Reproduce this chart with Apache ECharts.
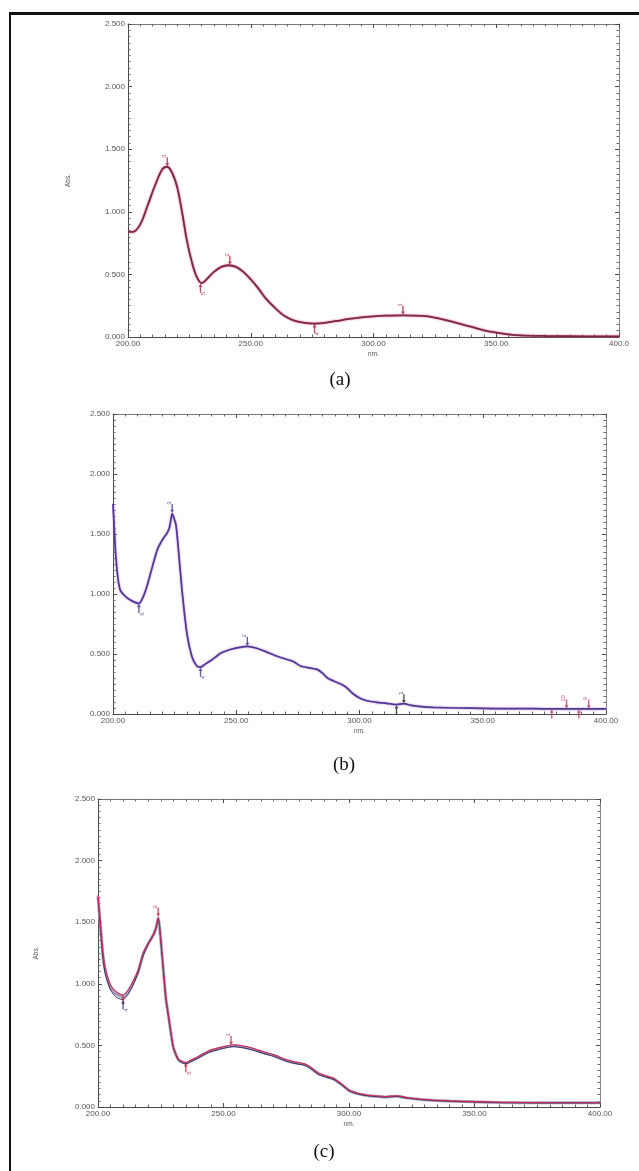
<!DOCTYPE html>
<html><head><meta charset="utf-8">
<script src="https://cdn.jsdelivr.net/npm/echarts@6/dist/echarts.min.js"></script>
<style>html,body{margin:0;padding:0;background:#fff}#c{width:639px;height:1171px}</style>
</head><body><div id="c"></div>
<script>
// ---------- tick labels ----------
const yTickLabels = ['0.000','0.500','1.000','1.500','2.000','2.500'];
const xTickLabelsA = ['200.00','250.00','300.00','350.00','400.0'];
const xTickLabelsBC = ['200.00','250.00','300.00','350.00','400.00'];
const captions = ['(a)','(b)','(c)'];

// ---------- panel (a) ----------
const wlA = [200,202,205,208,211,214,216,218,220,222,224,226,228,230,232,235,238,241,244,247,250,253,256,260,264,268,272,276,280,285,290,295,300,305,312,320,325,330,335,340,345,350,355,360,370,380,390,400];
const absA = [0.84,0.84,0.90,1.05,1.21,1.34,1.36,1.31,1.20,1.00,0.77,0.60,0.48,0.43,0.46,0.52,0.56,0.573,0.56,0.52,0.46,0.39,0.31,0.23,0.165,0.128,0.112,0.107,0.112,0.128,0.144,0.157,0.165,0.170,0.173,0.168,0.155,0.133,0.107,0.080,0.053,0.035,0.021,0.013,0.008,0.006,0.005,0.005];
const markA_wl  = [216, 241.5, 312, 229.5, 276];
const markA_abs = [1.36, 0.573, 0.173, 0.43, 0.107];
const markA_id  = ['3','2','1','5','4'];
const markA_dir = ['down','down','down','up','up'];

// ---------- panel (b) ----------
const wlB = [200,201,202,203,205,207,209,210.5,212,214,216,218,220,222,223,224,225.5,226.5,228,230,232,234,235.5,237,240,244,248,252,254.5,258,262,266,270,273,276,280,283,285,287,290,293,295,297,300,303,307,311,315,318,321,325,330,340,350,360,370,380,390,400];
const absB = [1.75,1.36,1.13,1.03,0.98,0.95,0.93,0.92,0.965,1.08,1.23,1.37,1.45,1.51,1.56,1.67,1.58,1.38,1.03,0.67,0.48,0.40,0.39,0.41,0.45,0.51,0.54,0.558,0.563,0.55,0.52,0.486,0.458,0.44,0.40,0.383,0.37,0.34,0.30,0.27,0.244,0.216,0.175,0.133,0.110,0.097,0.089,0.078,0.086,0.072,0.061,0.055,0.050,0.047,0.044,0.044,0.042,0.042,0.042];
const markB_wl  = [224, 254.5, 318, 384, 393, 210.5, 235.5, 315, 378, 389];
const markB_abs = [1.67, 0.563, 0.086, 0.042, 0.042, 0.92, 0.39, 0.078, 0.042, 0.042];
const markB_id  = ['3','2','1','10','9','6','4','','',''];
const markB_dir = ['down','down','down','down','down','up','up','up','up','up'];
const markB_col = ['#3a2f8a','#3a2f8a','#222222','#c0306a','#c0306a','#3a2f8a','#3a2f8a','#222222','#c0306a','#c0306a'];

// ---------- panel (c) ----------
const wlC = [200,201,202,203,205,207,209,210,212,214,216,218,220,222,223,224,225.5,227,228,230,232,234,235,237,240,244,248,252,254,258,262,266,270,274,278,282,284,286,288,291,294,296,298,300,303,306,310,315,319,323,330,340,350,360,370,380,390,400];
const absC_red  = [1.72,1.48,1.25,1.12,0.99,0.94,0.915,0.91,0.95,1.02,1.11,1.25,1.33,1.40,1.45,1.54,1.25,0.90,0.76,0.49,0.39,0.366,0.36,0.38,0.41,0.455,0.48,0.499,0.505,0.495,0.475,0.448,0.425,0.392,0.368,0.352,0.333,0.303,0.273,0.252,0.232,0.203,0.172,0.138,0.115,0.101,0.091,0.085,0.091,0.077,0.061,0.050,0.044,0.039,0.036,0.035,0.035,0.035];
const absC_navy = [1.70,1.44,1.20,1.07,0.95,0.895,0.875,0.87,0.915,0.99,1.09,1.23,1.32,1.39,1.44,1.53,1.23,0.88,0.74,0.48,0.38,0.355,0.35,0.368,0.398,0.442,0.466,0.485,0.49,0.48,0.46,0.434,0.411,0.378,0.355,0.34,0.321,0.292,0.262,0.242,0.222,0.194,0.163,0.130,0.108,0.095,0.086,0.080,0.086,0.072,0.057,0.046,0.040,0.036,0.033,0.033,0.033,0.033];
const absC_gray = [1.71,1.46,1.23,1.10,0.97,0.92,0.90,0.895,0.935,1.01,1.10,1.24,1.325,1.395,1.445,1.535,1.24,0.89,0.75,0.485,0.385,0.36,0.355,0.374,0.404,0.448,0.473,0.492,0.497,0.487,0.467,0.44,0.418,0.385,0.361,0.346,0.327,0.297,0.268,0.247,0.227,0.198,0.167,0.134,0.111,0.098,0.088,0.082,0.088,0.074,0.059,0.048,0.042,0.037,0.034,0.034,0.034,0.034];
const markC_wl  = [224, 253, 210, 210, 235];
const markC_abs = [1.54, 0.50, 0.91, 0.87, 0.36];
const markC_id  = ['2','1','','4','5'];
const markC_dir = ['down','down','up','up','up'];
const markC_col = ['#c0203a','#c0203a','#c0203a','#2e2f6e','#c0203a'];

// ---------- build ----------
const grids = [
  {left:128, top:24, width:491, height:313},
  {left:113, top:414, width:493, height:300},
  {left:98, top:799, width:502, height:308}
];
const xLabelSets = [xTickLabelsA, xTickLabelsBC, xTickLabelsBC];
const showAbs = [true, false, true];
const AX = '#4a4a4a', LBL = '#555';
const xAxes = [], yAxes = [];
grids.forEach((g, i) => {
  const xl = xLabelSets[i];
  const baseX = {gridIndex:i, type:'value', min:200, max:400, interval:50,
    axisLine:{show:true, onZero:false, lineStyle:{color:AX, width:1}},
    axisTick:{show:true, inside:true, length:4, lineStyle:{color:AX}},
    minorTick:{show:true, splitNumber:10, length:2.5, lineStyle:{color:'#666'}},
    splitLine:{show:false}, minorSplitLine:{show:false}};
  xAxes.push(Object.assign({}, baseX, {position:'bottom',
    axisLabel:{fontSize:8, color:LBL, margin:3, fontFamily:'Liberation Sans',
      formatter: v => xl[Math.round((v-200)/50)]},
    name:'nm.', nameLocation:'middle', nameGap:14,
    nameTextStyle:{fontSize:6.5, color:LBL, fontFamily:'Liberation Sans'}}));
  xAxes.push(Object.assign({}, baseX, {position:'top', axisLabel:{show:false},
    axisLine:{show:true, onZero:false, lineStyle:{color:'#777', width:1}}}));
  const baseY = {gridIndex:i, type:'value', min:0, max:2.5, interval:0.5,
    axisLine:{show:true, onZero:false, lineStyle:{color:AX, width:1}},
    axisTick:{show:true, inside:true, length:4, lineStyle:{color:AX}},
    minorTick:{show:true, splitNumber:10, length:2.5, lineStyle:{color:'#666'}},
    splitLine:{show:false}, minorSplitLine:{show:false}};
  yAxes.push(Object.assign({}, baseY, {position:'left',
    axisLabel:{fontSize:8, color:LBL, margin:3, fontFamily:'Liberation Sans',
      formatter: v => yTickLabels[Math.round(v/0.5)]},
    name: showAbs[i] ? 'Abs.' : '', nameLocation:'middle', nameGap:56, nameRotate:90,
    nameTextStyle:{fontSize:6.5, color:LBL, fontFamily:'Liberation Sans'}}));
  yAxes.push(Object.assign({}, baseY, {position:'right', axisLabel:{show:false},
    axisLine:{show:true, onZero:false, lineStyle:{color:'#888', width:1}}}));
});
yAxes[4].nameGap = 58;

const pairs = (xs, ys) => xs.map((x, k) => [x, ys[k]]);
const ARROW_DOWN = 'path://M-1,0 L1,0 L1,7 L3,7 L0,11 L-3,7 L-1,7 Z';
const ARROW_UP = 'path://M0,0 L3,4 L1,4 L1,11 L-1,11 L-1,4 L-3,4 Z';
function markerSeries(gi, wl, abs, ids, dirs, cols) {
  return {type:'scatter', xAxisIndex:2*gi, yAxisIndex:2*gi, z:5, silent:true,
    data: wl.map((w, k) => {
      const down = dirs[k] === 'down';
      return {value:[w, abs[k]], symbol: down ? ARROW_DOWN : ARROW_UP,
        symbolSize:[4, 9], symbolOffset:[0, down ? -5 : 5],
        itemStyle:{color: cols[k]},
        label:{show: ids[k] !== '', formatter: ids[k], position: down ? 'top' : 'bottom',
          distance:1, rotate:90, fontSize:6, color: cols[k], fontFamily:'Liberation Sans'}};
    })};
}

const series = [
  {type:'line', xAxisIndex:0, yAxisIndex:0, data:pairs(wlA, absA), showSymbol:false, smooth:0.35, silent:true,
    lineStyle:{color:'#7a2a44', width:1.8, shadowColor:'#e0507a', shadowBlur:2}},
  markerSeries(0, markA_wl, markA_abs, markA_id, markA_dir, markA_wl.map(() => '#a81e40')),
  {type:'line', xAxisIndex:2, yAxisIndex:2, data:pairs(wlB, absB), showSymbol:false, smooth:0.2, silent:true,
    lineStyle:{color:'#4a3c98', width:1.7, shadowColor:'#c070c0', shadowBlur:2}},
  markerSeries(1, markB_wl, markB_abs, markB_id, markB_dir, markB_col),
  {type:'line', xAxisIndex:4, yAxisIndex:4, data:pairs(wlC, absC_gray), showSymbol:false, smooth:0.2, silent:true,
    lineStyle:{color:'#a49ab8', width:3}},
  {type:'line', xAxisIndex:4, yAxisIndex:4, data:pairs(wlC, absC_navy), showSymbol:false, smooth:0.2, silent:true,
    lineStyle:{color:'#2e2f6e', width:1}},
  {type:'line', xAxisIndex:4, yAxisIndex:4, data:pairs(wlC, absC_red), showSymbol:false, smooth:0.2, silent:true,
    lineStyle:{color:'#d02a50', width:1.1}},
  markerSeries(2, markC_wl, markC_abs, markC_id, markC_dir, markC_col)
];

const chart = echarts.init(document.getElementById('c'), null, {renderer:'canvas'});
chart.setOption({
  animation:false,
  backgroundColor:'#ffffff',
  grid: grids,
  xAxis: xAxes,
  yAxis: yAxes,
  series: series,
  graphic: [
    {type:'line', shape:{x1:9, y1:13.5, x2:639, y2:13.5}, style:{stroke:'#111', lineWidth:3}},
    {type:'line', shape:{x1:10, y1:12, x2:10, y2:1171}, style:{stroke:'#111', lineWidth:2}},
    {type:'text', x:340, y:380, style:{text:captions[0], font:'19px "Liberation Serif"', fill:'#111', textAlign:'center', textVerticalAlign:'middle'}},
    {type:'text', x:344, y:765, style:{text:captions[1], font:'19px "Liberation Serif"', fill:'#111', textAlign:'center', textVerticalAlign:'middle'}},
    {type:'text', x:324, y:1152, style:{text:captions[2], font:'19px "Liberation Serif"', fill:'#111', textAlign:'center', textVerticalAlign:'middle'}}
  ]
});
</script></body></html>
